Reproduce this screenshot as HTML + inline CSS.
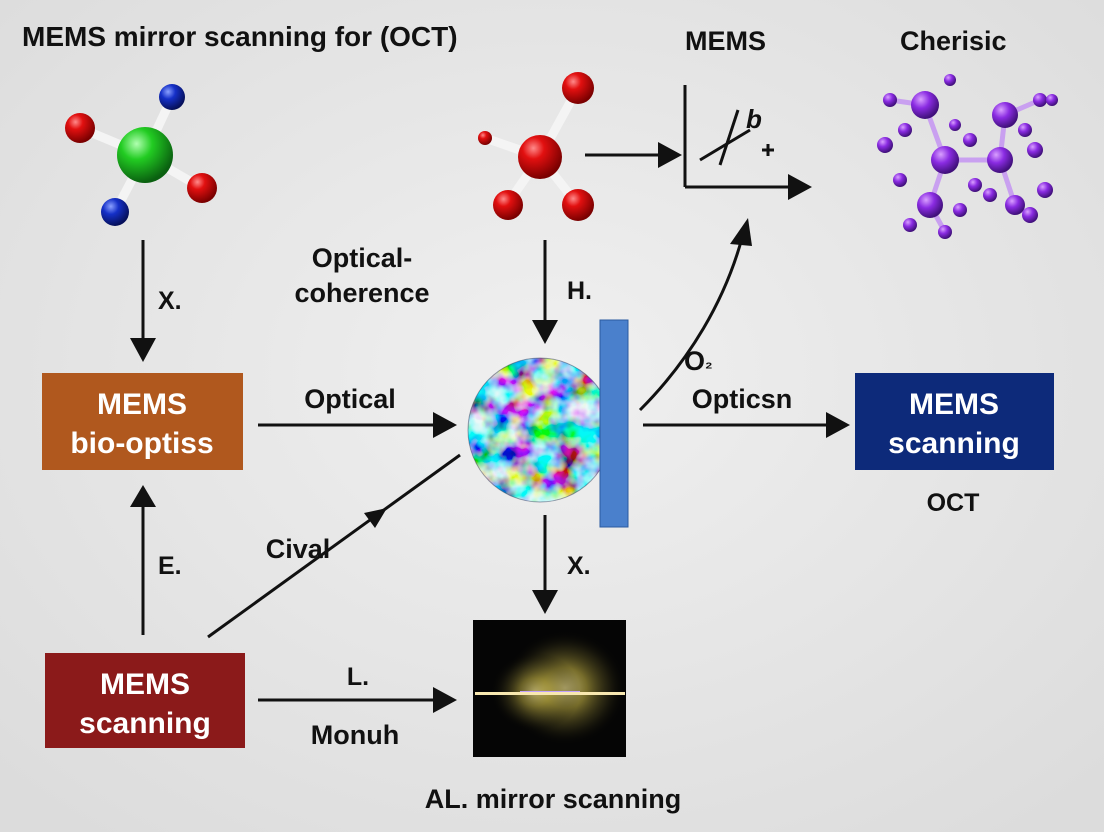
<!DOCTYPE html>
<html><head><meta charset="utf-8"><style>
html,body{margin:0;padding:0;width:1104px;height:832px;overflow:hidden;background:#e9e9e9;}
svg{display:block}
text{font-family:"Liberation Sans",sans-serif;font-weight:bold;}
</style></head><body>
<svg width="1104" height="832" viewBox="0 0 1104 832" xmlns="http://www.w3.org/2000/svg">
<defs>
<radialGradient id="bg" cx="50%" cy="45%" r="70%"><stop offset="0" stop-color="#f0f0f0"/><stop offset="1" stop-color="#dcdcdc"/></radialGradient>
<radialGradient id="red" cx="35%" cy="30%" r="70%"><stop offset="0" stop-color="#ff8a8a"/><stop offset=".35" stop-color="#e21010"/><stop offset="1" stop-color="#7a0000"/></radialGradient>
<radialGradient id="blue" cx="35%" cy="30%" r="70%"><stop offset="0" stop-color="#8aa0ff"/><stop offset=".4" stop-color="#1530c8"/><stop offset="1" stop-color="#06105a"/></radialGradient>
<radialGradient id="green" cx="35%" cy="30%" r="70%"><stop offset="0" stop-color="#b0ffb0"/><stop offset=".4" stop-color="#22cc22"/><stop offset="1" stop-color="#0a6010"/></radialGradient>
<radialGradient id="purp" cx="35%" cy="30%" r="70%"><stop offset="0" stop-color="#d9a0ff"/><stop offset=".45" stop-color="#8a2be2"/><stop offset="1" stop-color="#40107a"/></radialGradient>
<radialGradient id="glow" cx="50%" cy="50%" r="50%"><stop offset="0" stop-color="#fff0a0"/><stop offset=".35" stop-color="#b8a840" stop-opacity=".85"/><stop offset=".7" stop-color="#504a20" stop-opacity=".5"/><stop offset="1" stop-color="#000" stop-opacity="0"/></radialGradient>
<filter id="noise" x="0" y="0" width="100%" height="100%">
<feTurbulence type="fractalNoise" baseFrequency="0.045" numOctaves="3" seed="7"/>
<feColorMatrix type="matrix" values="3 0 0 0 -1.1  0 0 3 0 -0.9  0 3 0 0 -0.8  0 0 0 0 1"/>
</filter>
<clipPath id="cc"><circle cx="540" cy="430" r="72"/></clipPath>
</defs>
<rect width="1104" height="832" fill="url(#bg)"/>

<text x="22" y="46" font-size="28" fill="#111">MEMS mirror scanning for (OCT)</text>
<text x="685" y="50" font-size="27" fill="#111">MEMS</text>
<text x="900" y="50" font-size="27" fill="#111">Cherisic</text>

<!-- molecule 1 -->
<g stroke-width="9" stroke-linecap="round" stroke="#f4f4f4">
<line x1="145" y1="155" x2="80" y2="128"/>
<line x1="145" y1="155" x2="200" y2="187"/>
<line x1="145" y1="155" x2="172" y2="97"/>
<line x1="145" y1="155" x2="116" y2="210"/>
</g>
<circle cx="80" cy="128" r="15" fill="url(#red)"/>
<circle cx="172" cy="97" r="13" fill="url(#blue)"/>
<circle cx="145" cy="155" r="28" fill="url(#green)"/>
<circle cx="202" cy="188" r="15" fill="url(#red)"/>
<circle cx="115" cy="212" r="14" fill="url(#blue)"/>

<!-- molecule 2 -->
<g stroke-width="9" stroke-linecap="round" stroke="#f4f4f4">
<line x1="540" y1="157" x2="578" y2="88"/><line x1="540" y1="157" x2="578" y2="205"/>
<line x1="540" y1="157" x2="508" y2="203"/><line x1="540" y1="157" x2="485" y2="138"/>
</g>
<circle cx="485" cy="138" r="7" fill="url(#red)"/>
<circle cx="578" cy="88" r="16" fill="url(#red)"/>
<circle cx="540" cy="157" r="22" fill="url(#red)"/>
<circle cx="578" cy="205" r="16" fill="url(#red)"/>
<circle cx="508" cy="205" r="15" fill="url(#red)"/>

<!-- purple cluster -->
<g stroke="#c9a0f0" stroke-width="5">
<line x1="925" y1="105" x2="945" y2="160"/><line x1="945" y1="160" x2="1000" y2="160"/>
<line x1="1005" y1="115" x2="1000" y2="160"/><line x1="945" y1="160" x2="930" y2="205"/>
<line x1="1000" y1="160" x2="1015" y2="205"/><line x1="890" y1="100" x2="925" y2="105"/>
<line x1="1040" y1="100" x2="1005" y2="115"/><line x1="930" y1="205" x2="945" y2="232"/>
<line x1="1015" y1="205" x2="1030" y2="215"/>
</g>
<g fill="url(#purp)">
<circle cx="925" cy="105" r="14"/><circle cx="1005" cy="115" r="13"/><circle cx="945" cy="160" r="14"/>
<circle cx="1000" cy="160" r="13"/><circle cx="930" cy="205" r="13"/><circle cx="1015" cy="205" r="10"/>
<circle cx="890" cy="100" r="7"/><circle cx="1040" cy="100" r="7"/><circle cx="1052" cy="100" r="6"/>
<circle cx="945" cy="232" r="7"/><circle cx="1030" cy="215" r="8"/><circle cx="885" cy="145" r="8"/>
<circle cx="905" cy="130" r="7"/><circle cx="970" cy="140" r="7"/><circle cx="975" cy="185" r="7"/>
<circle cx="1035" cy="150" r="8"/><circle cx="1045" cy="190" r="8"/><circle cx="960" cy="210" r="7"/>
<circle cx="910" cy="225" r="7"/><circle cx="955" cy="125" r="6"/><circle cx="1025" cy="130" r="7"/>
<circle cx="990" cy="195" r="7"/><circle cx="900" cy="180" r="7"/><circle cx="950" cy="80" r="6"/>
</g>

<!-- boxes -->
<rect x="42" y="373" width="201" height="97" fill="#b0581e"/>
<text x="142" y="414" font-size="30" fill="#fff" text-anchor="middle">MEMS</text>
<text x="142" y="453" font-size="30" fill="#fff" text-anchor="middle">bio-optiss</text>
<rect x="45" y="653" width="200" height="95" fill="#8b1a1a"/>
<text x="145" y="694" font-size="30" fill="#fff" text-anchor="middle">MEMS</text>
<text x="145" y="733" font-size="30" fill="#fff" text-anchor="middle">scanning</text>
<rect x="855" y="373" width="199" height="97" fill="#0d2a7a"/>
<text x="954" y="414" font-size="30" fill="#fff" text-anchor="middle">MEMS</text>
<text x="954" y="453" font-size="30" fill="#fff" text-anchor="middle">scanning</text>
<text x="953" y="511" font-size="25" fill="#111" text-anchor="middle">OCT</text>

<!-- circle -->
<g clip-path="url(#cc)"><rect x="460" y="350" width="160" height="160" fill="#30b8a8"/><rect x="460" y="350" width="160" height="160" filter="url(#noise)" opacity=".9"/></g>
<circle cx="540" cy="430" r="72" fill="none" stroke="#446" stroke-opacity=".5"/>
<rect x="600" y="320" width="28" height="207" fill="#4a80cc" stroke="#2a5aa0"/>

<!-- dark image -->
<rect x="473" y="620" width="153" height="137" fill="#050505"/>
<ellipse cx="565" cy="688" rx="62" ry="58" fill="url(#glow)" opacity=".75"/>
<ellipse cx="535" cy="692" rx="45" ry="40" fill="url(#glow)" opacity=".55"/>
<rect x="475" y="692" width="150" height="3" fill="#f8e8b0"/>
<rect x="520" y="691" width="60" height="1" fill="#c0a0ff"/>

<!-- arrows -->
<g stroke="#111" stroke-width="3" fill="none">
<line x1="143" y1="240" x2="143" y2="340"/>
<line x1="143" y1="635" x2="143" y2="505"/>
<line x1="258" y1="425" x2="435" y2="425"/>
<line x1="258" y1="700" x2="435" y2="700"/>
<line x1="208" y1="637" x2="460" y2="455"/>
<line x1="545" y1="240" x2="545" y2="322"/>
<line x1="545" y1="515" x2="545" y2="592"/>
<line x1="585" y1="155" x2="660" y2="155"/>
<line x1="685" y1="85" x2="685" y2="187"/>
<line x1="685" y1="187" x2="790" y2="187"/>
<line x1="643" y1="425" x2="828" y2="425"/>
<path d="M640,410 C690,360 725,300 742,238"/>
<line x1="700" y1="160" x2="750" y2="130"/><line x1="720" y1="165" x2="738" y2="110"/>
<line x1="762" y1="150" x2="774" y2="150"/><line x1="768" y1="144" x2="768" y2="156"/>
</g>
<g fill="#111">
<polygon points="130,338 156,338 143,362"/>
<polygon points="130,507 156,507 143,485"/>
<polygon points="433,412 433,438 457,425"/>
<polygon points="433,687 433,713 457,700"/>
<polygon points="532,320 558,320 545,344"/>
<polygon points="532,590 558,590 545,614"/>
<polygon points="658,142 658,168 682,155"/>
<polygon points="788,174 788,200 812,187"/>
<polygon points="826,412 826,438 850,425"/>
<polygon points="730,244 752,246 748,218"/>
<polygon points="387,508 375,528 364,513"/>
</g>
<text x="746" y="128" font-size="26" fill="#111" font-style="italic">b</text>

<!-- labels -->
<text x="158" y="309" font-size="25" fill="#111">X.</text>
<text x="158" y="574" font-size="25" fill="#111">E.</text>
<text x="567" y="299" font-size="25" fill="#111">H.</text>
<text x="567" y="574" font-size="25" fill="#111">X.</text>
<text x="350" y="408" font-size="27" fill="#111" text-anchor="middle">Optical</text>
<text x="362" y="267" font-size="27" fill="#111" text-anchor="middle">Optical-</text>
<text x="362" y="302" font-size="27" fill="#111" text-anchor="middle">coherence</text>
<text x="298" y="558" font-size="27" fill="#111" text-anchor="middle">Cival</text>
<text x="358" y="685" font-size="25" fill="#111" text-anchor="middle">L.</text>
<text x="355" y="744" font-size="27" fill="#111" text-anchor="middle">Monuh</text>
<text x="553" y="808" font-size="27" fill="#111" text-anchor="middle">AL. mirror scanning</text>
<text x="742" y="408" font-size="27" fill="#111" text-anchor="middle">Opticsn</text>
<text x="684" y="370" font-size="27" fill="#111">O<tspan font-size="17" dy="-2">₂</tspan></text>
</svg>
</body></html>
